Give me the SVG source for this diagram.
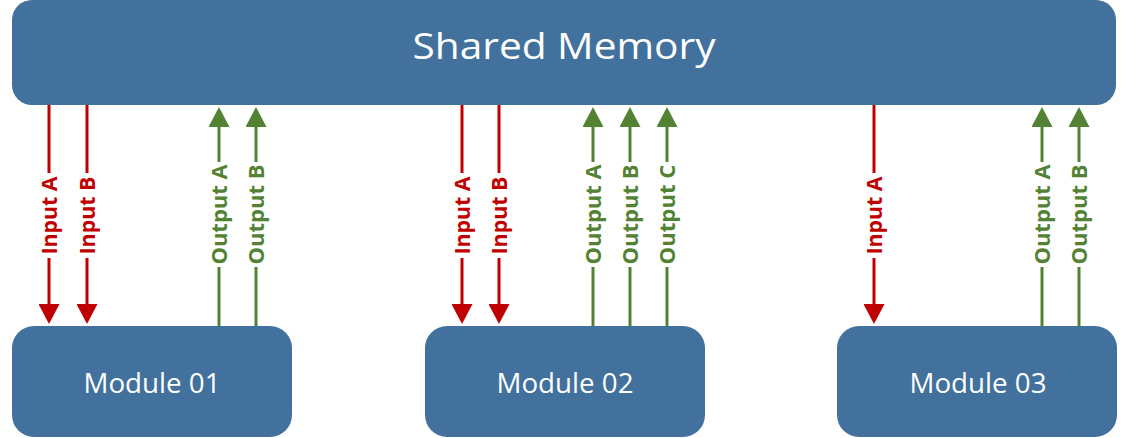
<svg xmlns="http://www.w3.org/2000/svg" width="1122" height="438" viewBox="0 0 1122 438">
<style>
.box{fill:#41719C;}
.title{font-family:"Open Sans","Liberation Sans",Arial,sans-serif;fill:#ffffff;text-anchor:middle;}
.in{stroke:#C00000;stroke-width:3;fill:none;}
.out{stroke:#548235;stroke-width:3;fill:none;}
.lbl{font-family:"Open Sans","Liberation Sans",Arial,sans-serif;font-weight:bold;font-size:21px;text-anchor:middle;}
.lin{fill:#C00000;}
.lout{fill:#548235;}
.gap{fill:#ffffff;}
</style>
<defs>
<marker id="hin" markerUnits="userSpaceOnUse" markerWidth="20" markerHeight="21" refX="0" refY="10.5" orient="auto" viewBox="0 0 20 21">
<path d="M0,0 L20,10.5 L0,21 z" fill="#C00000"/>
</marker>
<marker id="hout" markerUnits="userSpaceOnUse" markerWidth="20" markerHeight="21" refX="0" refY="10.5" orient="auto" viewBox="0 0 20 21">
<path d="M0,0 L20,10.5 L0,21 z" fill="#548235"/>
</marker>
</defs>
<g id="shared-memory">
<rect class="box" x="12" y="0" width="1104" height="105" rx="20" ry="20"/>
<text class="title" x="564" y="59" font-size="36" textLength="303" lengthAdjust="spacingAndGlyphs">Shared Memory</text>
</g>
<g id="module-01">
<rect class="box" x="12" y="326" width="280" height="111" rx="22" ry="22"/>
<text class="title" x="152" y="393" font-size="28" textLength="137" lengthAdjust="spacingAndGlyphs">Module 01</text>
</g>
<g id="module-02">
<rect class="box" x="425" y="326" width="280" height="111" rx="22" ry="22"/>
<text class="title" x="565" y="393" font-size="28" textLength="137" lengthAdjust="spacingAndGlyphs">Module 02</text>
</g>
<g id="module-03">
<rect class="box" x="837" y="326" width="280" height="111" rx="22" ry="22"/>
<text class="title" x="978" y="393" font-size="28" textLength="137" lengthAdjust="spacingAndGlyphs">Module 03</text>
</g>
<g id="connectors">
<line class="in" x1="49" y1="105" x2="49" y2="304" marker-end="url(#hin)"/>
<line class="in" x1="87" y1="105" x2="87" y2="304" marker-end="url(#hin)"/>
<line class="in" x1="462" y1="105" x2="462" y2="304" marker-end="url(#hin)"/>
<line class="in" x1="499" y1="105" x2="499" y2="304" marker-end="url(#hin)"/>
<line class="in" x1="874" y1="105" x2="874" y2="304" marker-end="url(#hin)"/>
<line class="out" x1="219" y1="326" x2="219" y2="127" marker-end="url(#hout)"/>
<line class="out" x1="256" y1="326" x2="256" y2="127" marker-end="url(#hout)"/>
<line class="out" x1="593" y1="326" x2="593" y2="127" marker-end="url(#hout)"/>
<line class="out" x1="630" y1="326" x2="630" y2="127" marker-end="url(#hout)"/>
<line class="out" x1="667" y1="326" x2="667" y2="127" marker-end="url(#hout)"/>
<line class="out" x1="1042" y1="326" x2="1042" y2="127" marker-end="url(#hout)"/>
<line class="out" x1="1079" y1="326" x2="1079" y2="127" marker-end="url(#hout)"/>
<rect class="gap" x="45" y="173" width="8" height="85"/>
<rect class="gap" x="83" y="173" width="8" height="85"/>
<rect class="gap" x="458" y="173" width="8" height="85"/>
<rect class="gap" x="495" y="173" width="8" height="85"/>
<rect class="gap" x="870" y="173" width="8" height="85"/>
<rect class="gap" x="215" y="162" width="8" height="105"/>
<rect class="gap" x="252" y="162" width="8" height="105"/>
<rect class="gap" x="589" y="162" width="8" height="105"/>
<rect class="gap" x="626" y="162" width="8" height="105"/>
<rect class="gap" x="663" y="162" width="8" height="105"/>
<rect class="gap" x="1038" y="162" width="8" height="105"/>
<rect class="gap" x="1075" y="162" width="8" height="105"/>
<text class="lbl lin" transform="translate(57,215.5) rotate(-90)" textLength="78" lengthAdjust="spacingAndGlyphs">Input A</text>
<text class="lbl lin" transform="translate(95,215.5) rotate(-90)" textLength="78" lengthAdjust="spacingAndGlyphs">Input B</text>
<text class="lbl lin" transform="translate(470,215.5) rotate(-90)" textLength="78" lengthAdjust="spacingAndGlyphs">Input A</text>
<text class="lbl lin" transform="translate(507,215.5) rotate(-90)" textLength="78" lengthAdjust="spacingAndGlyphs">Input B</text>
<text class="lbl lin" transform="translate(882,215.5) rotate(-90)" textLength="78" lengthAdjust="spacingAndGlyphs">Input A</text>
<text class="lbl lout" transform="translate(227,214.5) rotate(-90)" textLength="100" lengthAdjust="spacingAndGlyphs">Output A</text>
<text class="lbl lout" transform="translate(264,214.5) rotate(-90)" textLength="100" lengthAdjust="spacingAndGlyphs">Output B</text>
<text class="lbl lout" transform="translate(601,214.5) rotate(-90)" textLength="100" lengthAdjust="spacingAndGlyphs">Output A</text>
<text class="lbl lout" transform="translate(638,214.5) rotate(-90)" textLength="100" lengthAdjust="spacingAndGlyphs">Output B</text>
<text class="lbl lout" transform="translate(675,214.5) rotate(-90)" textLength="100" lengthAdjust="spacingAndGlyphs">Output C</text>
<text class="lbl lout" transform="translate(1050,214.5) rotate(-90)" textLength="100" lengthAdjust="spacingAndGlyphs">Output A</text>
<text class="lbl lout" transform="translate(1087,214.5) rotate(-90)" textLength="100" lengthAdjust="spacingAndGlyphs">Output B</text>
</g>
</svg>
